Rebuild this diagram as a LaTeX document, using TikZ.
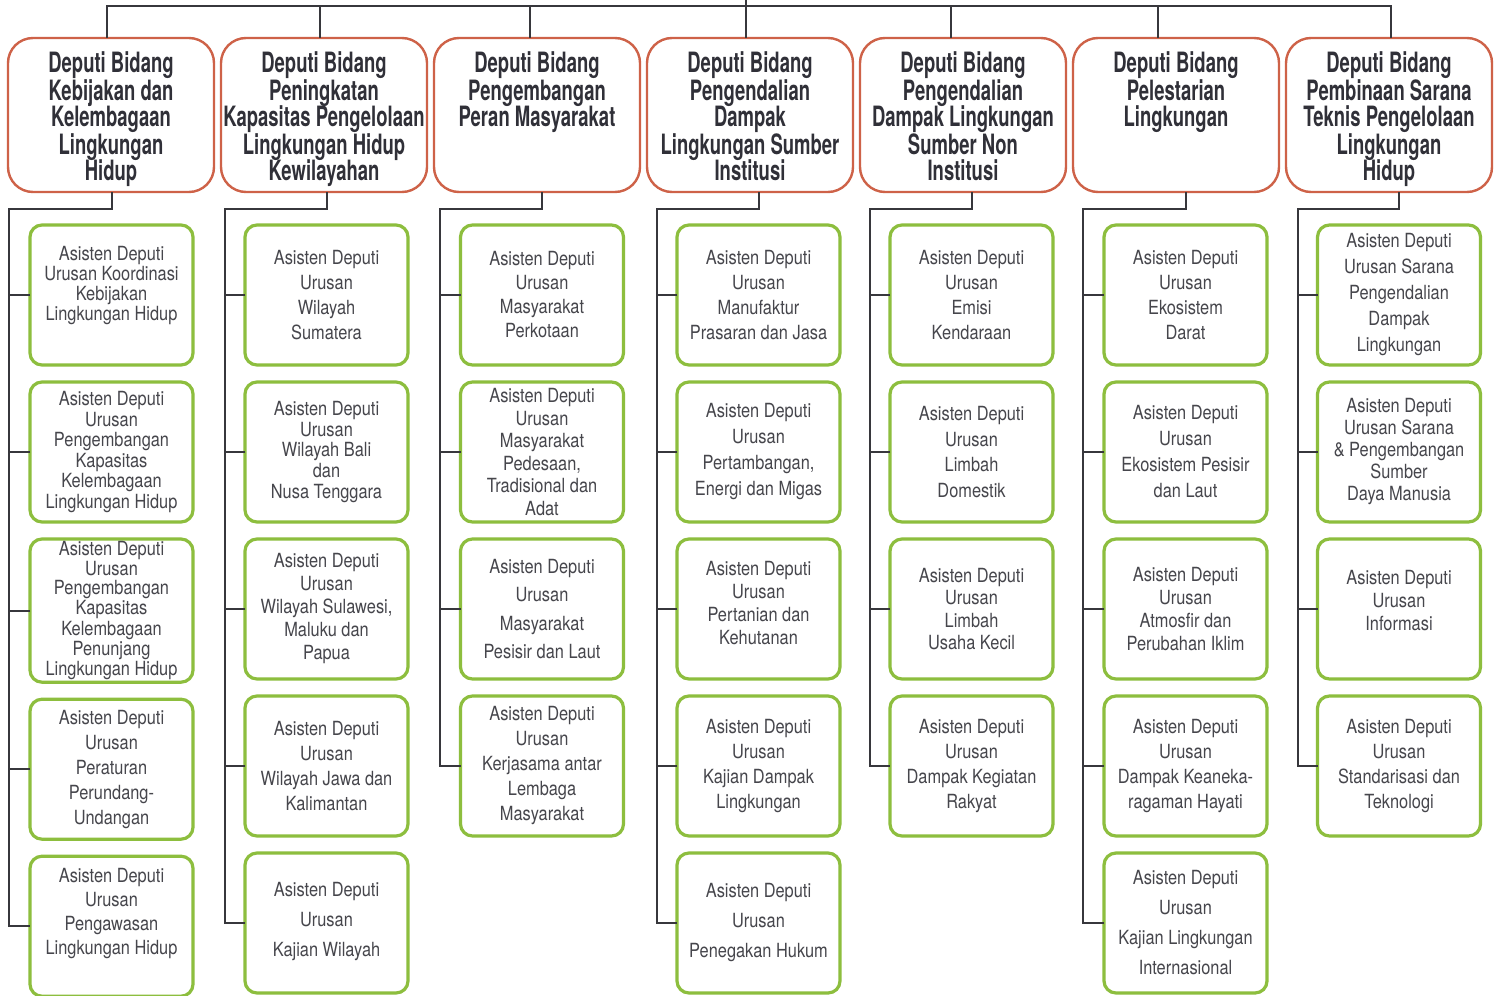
\documentclass[tikz,border=0pt]{standalone}
\usepackage{fontspec}
\usepackage{tikz}
\usetikzlibrary{positioning}
\setmainfont{TeX Gyre Heros}
\newfontfamily\judulfont[FakeStretch=0.66]{TeX Gyre Heros}
\newfontfamily\isifont[FakeStretch=0.84]{TeX Gyre Heros}
\definecolor{garismerah}{RGB}{206,98,72}
\definecolor{garishijau}{RGB}{141,190,62}
\definecolor{garishubung}{RGB}{55,55,60}
\definecolor{teksgelap}{RGB}{48,48,56}
\definecolor{teksabu}{RGB}{70,70,76}
\tikzset{
	x=0.5pt, y=-0.5pt, % one unit = one pixel of the scanned chart
	deputi/.style={draw=garismerah, line width=1.2pt, outer sep=0pt, rounded corners=12.5pt, minimum width=103pt, minimum height=77pt, inner xsep=0.5pt, inner ysep=7.5pt, text width=102pt, text height=10pt, text depth=52pt, align=flush center, text=teksgelap, font=\judulfont\bfseries\fontsize{14pt}{13.5pt}\selectfont}, % top boxes, text hangs from the top
	asdep/.style={draw=garishijau, line width=1.6pt, outer sep=0pt, rounded corners=6pt, minimum width=81.5pt, minimum height=70pt, inner sep=1pt, align=center, text=teksabu, font=\isifont\fontsize{9.75pt}{12.5pt}\selectfont}, % green boxes
	baris/.style={font=\isifont\fontsize{9.75pt}{#1}\selectfont}, % line spacing of a green box
	naik/.style={text depth=#1}, % lifts the text a little inside its box
	hubung/.style={draw=garishubung, line width=1pt},
}

\begin{document}
\begin{tikzpicture}
	\fill[white] (0,0) rectangle (1502,995);
	\useasboundingbox (0,0) rectangle (1502,995);

	% deputi
	\node[deputi] (d1) at (111,115) {Deputi Bidang\\Kebijakan dan\\Kelembagaan\\Lingkungan\\Hidup};
	\node[deputi, right=3.5pt of d1] (d2) {Deputi Bidang\\Peningkatan\\Kapasitas Pengelolaan\\Lingkungan Hidup\\Kewilayahan};
	\node[deputi, right=3.5pt of d2] (d3) {Deputi Bidang\\Pengembangan\\Peran Masyarakat};
	\node[deputi, right=3.5pt of d3] (d4) {Deputi Bidang\\Pengendalian\\Dampak\\Lingkungan Sumber\\Institusi};
	\node[deputi, right=3.5pt of d4] (d5) {Deputi Bidang\\Pengendalian\\Dampak Lingkungan\\Sumber Non\\Institusi};
	\node[deputi, right=3.5pt of d5] (d6) {Deputi Bidang\\Pelestarian\\Lingkungan};
	\node[deputi, right=3.5pt of d6] (d7) {Deputi Bidang\\Pembinaan Sarana\\Teknis Pengelolaan\\Lingkungan\\Hidup};

	% asisten deputi
	\node[asdep, baris=10pt, naik=12pt] (a11) at (111.5,295) {Asisten Deputi\\Urusan Koordinasi\\Kebijakan\\Lingkungan Hidup};
	\node[asdep, baris=10.3pt, below=8.5pt of a11] (a12) {Asisten Deputi\\Urusan\\Pengembangan\\Kapasitas\\Kelembagaan\\Lingkungan Hidup};
	\node[asdep, baris=9.2pt, below=8.5pt of a12] (a13) {Asisten Deputi\\Urusan\\Pengembangan\\Kapasitas\\Kelembagaan\\Penunjang\\Lingkungan Hidup};
	\node[asdep, below=8.5pt of a13] (a14) {Asisten Deputi\\Urusan\\Peraturan\\Perundang-\\Undangan};
	\node[asdep, baris=12pt, naik=15pt, below=8.5pt of a14] (a15) {Asisten Deputi\\Urusan\\Pengawasan\\Lingkungan Hidup};

	\node[asdep] (a21) at (326.5,295) {Asisten Deputi\\Urusan\\Wilayah\\Sumatera};
	\node[asdep, baris=10.3pt, below=8.5pt of a21] (a22) {Asisten Deputi\\Urusan\\Wilayah Bali\\dan\\Nusa Tenggara};
	\node[asdep, baris=11.5pt, below=8.5pt of a22] (a23) {Asisten Deputi\\Urusan\\Wilayah Sulawesi,\\Maluku dan\\Papua};
	\node[asdep, below=8.5pt of a23] (a24) {Asisten Deputi\\Urusan\\Wilayah Jawa dan\\Kalimantan};
	\node[asdep, baris=15pt, naik=4pt, below=8.5pt of a24] (a25) {Asisten Deputi\\Urusan\\Kajian Wilayah};

	\node[asdep, baris=12pt] (a31) at (542,295) {Asisten Deputi\\Urusan\\Masyarakat\\Perkotaan};
	\node[asdep, baris=11.3pt, below=8.5pt of a31] (a32) {Asisten Deputi\\Urusan\\Masyarakat\\Pedesaan,\\Tradisional dan\\Adat};
	\node[asdep, baris=14.2pt, below=8.5pt of a32] (a33) {Asisten Deputi\\Urusan\\Masyarakat\\Pesisir dan Laut};
	\node[asdep, below=8.5pt of a33] (a34) {Asisten Deputi\\Urusan\\Kerjasama antar\\Lembaga\\Masyarakat};

	\node[asdep] (a41) at (758.5,295) {Asisten Deputi\\Urusan\\Manufaktur\\Prasaran dan Jasa};
	\node[asdep, baris=13pt, below=8.5pt of a41] (a42) {Asisten Deputi\\Urusan\\Pertambangan,\\Energi dan Migas};
	\node[asdep, baris=11.5pt, naik=6pt, below=8.5pt of a42] (a43) {Asisten Deputi\\Urusan\\Pertanian dan\\Kehutanan};
	\node[asdep, below=8.5pt of a43] (a44) {Asisten Deputi\\Urusan\\Kajian Dampak\\Lingkungan};
	\node[asdep, baris=15pt, naik=3pt, below=8.5pt of a44] (a45) {Asisten Deputi\\Urusan\\Penegakan Hukum};

	\node[asdep] (a51) at (971.5,295) {Asisten Deputi\\Urusan\\Emisi\\Kendaraan};
	\node[asdep, baris=12.75pt, below=8.5pt of a51] (a52) {Asisten Deputi\\Urusan\\Limbah\\Domestik};
	\node[asdep, baris=11.3pt, below=8.5pt of a52] (a53) {Asisten Deputi\\Urusan\\Limbah\\Usaha Kecil};
	\node[asdep, below=8.5pt of a53] (a54) {Asisten Deputi\\Urusan\\Dampak Kegiatan\\Rakyat};

	\node[asdep] (a61) at (1185.5,295) {Asisten Deputi\\Urusan\\Ekosistem\\Darat};
	\node[asdep, baris=13pt, below=8.5pt of a61] (a62) {Asisten Deputi\\Urusan\\Ekosistem Pesisir\\dan Laut};
	\node[asdep, baris=11.5pt, below=8.5pt of a62] (a63) {Asisten Deputi\\Urusan\\Atmosfir dan\\Perubahan Iklim};
	\node[asdep, below=8.5pt of a63] (a64) {Asisten Deputi\\Urusan\\Dampak Keaneka-\\ragaman Hayati};
	\node[asdep, baris=15pt, below=8.5pt of a64] (a65) {Asisten Deputi\\Urusan\\Kajian Lingkungan\\Internasional};

	\node[asdep, baris=13pt] (a71) at (1399,295) {Asisten Deputi\\Urusan Sarana\\Pengendalian\\Dampak\\Lingkungan};
	\node[asdep, baris=11pt, below=8.5pt of a71] (a72) {Asisten Deputi\\Urusan Sarana\\\& Pengembangan\\Sumber\\Daya Manusia};
	\node[asdep, baris=11.5pt, naik=9pt, below=8.5pt of a72] (a73) {Asisten Deputi\\Urusan\\Informasi};
	\node[asdep, below=8.5pt of a73] (a74) {Asisten Deputi\\Urusan\\Standarisasi dan\\Teknologi};

	% garis atas
	\coordinate (atas) at (746,0);
	\coordinate (bus) at (746,6);
	\draw[hubung] ([xshift=-2pt]d1.north) |- (bus) -| ([xshift=1pt]d7.north);
	\draw[hubung] (atas) -- (atas |- d4.north);
	\draw[hubung] ([xshift=-2pt]d2.north) -- ([xshift=-2pt]d2.north |- bus)
		([xshift=-3.5pt]d3.north) -- ([xshift=-3.5pt]d3.north |- bus)
		([xshift=-6pt]d5.north) -- ([xshift=-6pt]d5.north |- bus)
		([xshift=-9pt]d6.north) -- ([xshift=-9pt]d6.north |- bus);

	% garis ke asisten deputi
	\coordinate (k1) at (9,209);
	\coordinate (k2) at (225,209);
	\coordinate (k3) at (440,209);
	\coordinate (k4) at (657,209);
	\coordinate (k5) at (870,209);
	\coordinate (k6) at (1083,209);
	\coordinate (k7) at (1298,209);
	\draw[hubung] (d1.south -| a11) |- (k1) |- (a15.west)
		(a11.west) -- (a11.west -| k1) (a12.west) -- (a12.west -| k1)
		(a13.west) -- (a13.west -| k1) (a14.west) -- (a14.west -| k1);
	\draw[hubung] (d2.south -| a21) |- (k2) |- (a25.west)
		(a21.west) -- (a21.west -| k2) (a22.west) -- (a22.west -| k2)
		(a23.west) -- (a23.west -| k2) (a24.west) -- (a24.west -| k2);
	\draw[hubung] (d3.south -| a31) |- (k3) |- (a34.west)
		(a31.west) -- (a31.west -| k3) (a32.west) -- (a32.west -| k3)
		(a33.west) -- (a33.west -| k3);
	\draw[hubung] (d4.south -| a41) |- (k4) |- (a45.west)
		(a41.west) -- (a41.west -| k4) (a42.west) -- (a42.west -| k4)
		(a43.west) -- (a43.west -| k4) (a44.west) -- (a44.west -| k4);
	\draw[hubung] (d5.south -| a51) |- (k5) |- (a54.west)
		(a51.west) -- (a51.west -| k5) (a52.west) -- (a52.west -| k5)
		(a53.west) -- (a53.west -| k5);
	\draw[hubung] (d6.south -| a61) |- (k6) |- (a65.west)
		(a61.west) -- (a61.west -| k6) (a62.west) -- (a62.west -| k6)
		(a63.west) -- (a63.west -| k6) (a64.west) -- (a64.west -| k6);
	\draw[hubung] (d7.south -| a71) |- (k7) |- (a74.west)
		(a71.west) -- (a71.west -| k7) (a72.west) -- (a72.west -| k7)
		(a73.west) -- (a73.west -| k7);
\end{tikzpicture}
\end{document}
